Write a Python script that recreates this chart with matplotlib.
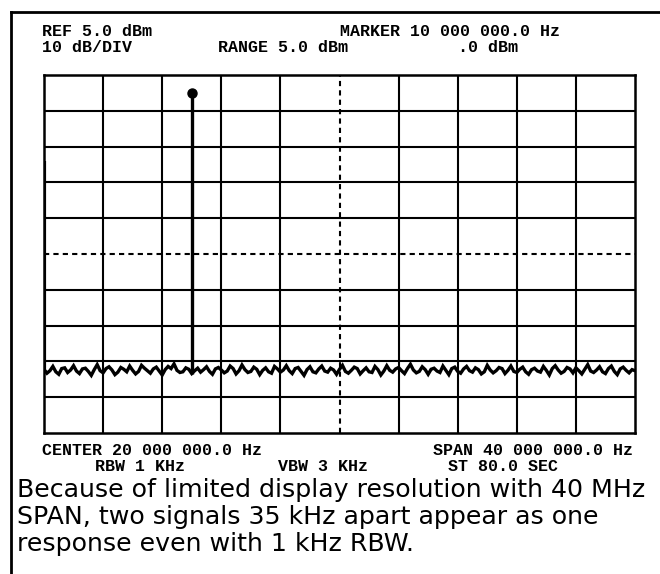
import numpy as np
import matplotlib
matplotlib.use("Agg")
import matplotlib.pyplot as plt
from matplotlib.lines import Line2D

# Analyzer settings shown on the screen
start_mhz = 0.0
span_mhz = 40.0
ref_level_dbm = 5.0
db_per_div = 10.0
n_vdiv = 10
n_hdiv = 10

marker_mhz = 10.0
marker_dbm = 0.0
feedthrough_dbm = -19.0

# Noise floor trace, 0 to 40 MHz in 0.2 MHz steps (dBm)
noise_dbm = [
    -77.2, -78.3, -77.6, -76.4, -77.9, -78.6, -77.0, -76.8, -78.1, -77.4,
    -76.2, -77.7, -78.4, -77.1, -76.9, -77.8, -78.9, -77.3, -75.9, -77.6,
    -78.2, -77.0, -76.5, -77.4, -78.7, -78.0, -76.7, -77.2, -77.9, -76.3,
    -77.5, -78.5, -77.8, -76.1, -76.9, -77.6, -78.3, -77.1, -76.6, -77.7,
    -78.8, -77.3, -76.4, -77.0, -75.7, -77.5, -78.1, -77.9, -76.8, -77.2,
    -78.4, -77.6, -76.9, -78.0, -77.3, -76.5, -77.8, -78.6, -77.1, -76.7,
    -77.4, -78.2, -77.7, -76.3, -77.0, -78.5, -77.6, -76.0, -77.3, -78.1,
    -77.8, -76.6, -77.2, -78.7, -77.5, -76.8, -77.9, -78.3, -76.4, -77.1,
    -78.0, -77.4, -76.2, -77.6, -78.4, -77.0, -76.7, -77.8, -78.9, -77.3,
    -76.5, -77.9, -78.2, -77.1, -76.3, -77.7, -78.0, -76.9, -77.4, -78.6,
    -77.2, -76.1, -77.8, -78.3, -77.5, -76.6, -77.0, -78.5, -77.6, -76.8,
    -77.9, -78.1, -76.4, -77.3, -78.8, -77.7, -76.2, -77.5, -78.0, -77.1,
    -76.7, -77.6, -78.4, -77.0, -75.8, -77.4, -78.2, -77.8, -76.5, -77.3,
    -78.6, -77.2, -76.9, -77.7, -78.1, -76.3, -77.5, -78.7, -77.0, -76.6,
    -77.8, -78.3, -77.1, -76.4, -77.6, -78.0, -76.8, -77.3, -78.5, -77.9,
    -76.1, -77.4, -78.2, -77.6, -76.7, -77.0, -78.4, -77.5, -76.3, -77.8,
    -78.1, -77.2, -76.6, -77.9, -78.6, -77.3, -76.9, -77.7, -78.0, -76.4,
    -77.5, -78.8, -77.0, -76.2, -77.4, -78.3, -77.8, -76.7, -77.1, -78.2,
    -76.8, -77.6, -78.5, -77.2, -75.9, -77.7, -78.1, -77.4, -76.5, -77.9,
    -78.4, -77.0, -76.3, -77.8, -78.7, -77.1, -76.6, -77.5, -78.2, -77.3,
    -77.6,
]

header_left = ["REF 5.0 dBm", "10 dB/DIV"]
header_range = "RANGE 5.0 dBm"
header_marker = ["MARKER 10 000 000.0 Hz", ".0 dBm"]
footer_center = "CENTER 20 000 000.0 Hz"
footer_span = "SPAN 40 000 000.0 Hz"
footer_bw = ["RBW 1 KHz", "VBW 3 KHz", "ST 80.0 SEC"]
caption_lines = [
    "Because of limited display resolution with 40 MHz",
    "SPAN, two signals 35 kHz apart appear as one",
    "response even with 1 kHz RBW.",
]

W, H = 660, 574
fig = plt.figure(figsize=(W / 100, H / 100), dpi=100)
fig.patch.set_facecolor("white")


def fx(px):
    return px / W


def fy(py):
    return 1 - py / H


# Graticule area
gl, gr, gt, gb = 44, 635, 75, 433
ax = fig.add_axes([fx(gl), fy(gb), fx(gr - gl), (gb - gt) / H])
bottom_dbm = ref_level_dbm - n_vdiv * db_per_div
ax.set_xlim(start_mhz, start_mhz + span_mhz)
ax.set_ylim(bottom_dbm, ref_level_dbm)
ax.set_xticks([])
ax.set_yticks([])
for s in ax.spines.values():
    s.set_linewidth(1.8)
    s.set_color("black")

xdiv = np.linspace(start_mhz, start_mhz + span_mhz, n_hdiv + 1)
ydiv = np.linspace(bottom_dbm, ref_level_dbm, n_vdiv + 1)
for i, xv in enumerate(xdiv[1:-1], start=1):
    ls = (0, (2.5, 2)) if i == n_hdiv // 2 else "-"
    ax.axvline(xv, color="black", lw=1.5, ls=ls)
for i, yv in enumerate(ydiv[1:-1], start=1):
    ls = (0, (2.5, 2)) if i == n_vdiv // 2 else "-"
    ax.axhline(yv, color="black", lw=1.5, ls=ls)

# Trace
freqs = np.linspace(start_mhz, start_mhz + span_mhz, len(noise_dbm))
noise = np.array(noise_dbm)
ax.plot(freqs, noise, color="black", lw=2.4, solid_joinstyle="miter")
ax.vlines(start_mhz, noise[0], feedthrough_dbm, color="black", lw=3.0)
base = np.interp(marker_mhz, freqs, noise)
ax.vlines(marker_mhz, base, marker_dbm, color="black", lw=2.4)
ax.plot([marker_mhz], [marker_dbm], "o", color="black", ms=6.5)

# Screen readouts
mono = dict(family="Liberation Mono", weight="bold", size=12, color="black",
            va="baseline")
fig.text(fx(42), fy(36), header_left[0], ha="left", **mono)
fig.text(fx(42), fy(52), header_left[1], ha="left", **mono)
fig.text(fx(218), fy(52), header_range, ha="left", **mono)
fig.text(fx(340), fy(36), header_marker[0], ha="left", **mono)
fig.text(fx(458), fy(52), header_marker[1], ha="left", **mono)
fig.text(fx(42), fy(455), footer_center, ha="left", **mono)
fig.text(fx(633), fy(455), footer_span, ha="right", **mono)
fig.text(fx(95), fy(471), footer_bw[0], ha="left", **mono)
fig.text(fx(278), fy(471), footer_bw[1], ha="left", **mono)
fig.text(fx(448), fy(471), footer_bw[2], ha="left", **mono)

# Caption
for k, line in enumerate(caption_lines):
    fig.text(fx(17), fy(497 + 27 * k), line, va="baseline", ha="left",
             family="DejaVu Sans", size=18.2, color="black")

# Page border
fig.add_artist(Line2D([fx(11), fx(660)], [fy(12), fy(12)], color="black", lw=2.0))
fig.add_artist(Line2D([fx(11), fx(11)], [fy(12), fy(574)], color="black", lw=2.0))

fig.savefig("out.png", dpi=100, facecolor="white")
